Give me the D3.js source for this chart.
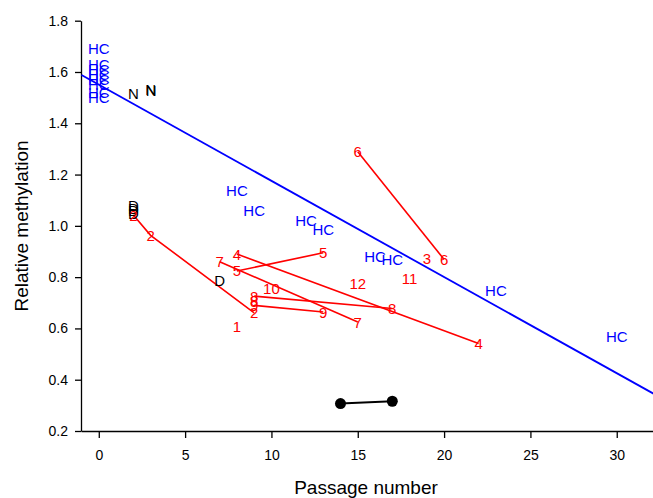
<!DOCTYPE html>
<html>
<head>
    <style>
        body { margin: 0; background: #fff; }
        svg { display: block; font-family: "Liberation Sans", Arial, sans-serif; }
        .axis text { font-size: 14px; fill: #000; }
        .axis path, .axis line { stroke: #000; stroke-width: 1.3px; }
        .lab { font-size: 15px; text-anchor: middle; dominant-baseline: central; }
        .title { font-size: 19px; fill: #000; text-anchor: middle; }
    </style>
    <script src="https://d3js.org/d3.v7.min.js"></script>
</head>
<body>
    <svg width="653" height="498"></svg>
    <script>

        // healthy controls (HC)
        var hcX = [0, 0, 0, 0, 0, 0, 0, 0, 8, 9, 12, 13, 16, 17, 23, 30];
        var hcY = [1.69, 1.63, 1.61, 1.59, 1.57, 1.55, 1.52, 1.50, 1.137, 1.059, 1.02, 0.987, 0.879, 0.869, 0.746, 0.567];

        // N and D samples
        var nX = [2, 3, 3.03];
        var nY = [1.517, 1.533, 1.528];
        var dX = [2, 2, 2, 2, 7];
        var dY = [1.078, 1.068, 1.058, 1.048, 0.788];

        // numbered patients, each point in passage order
        var patLabels = ["1", "2", "3", "4", "5", "6", "7", "8", "8", "9", "10", "11", "12"];
        var patX = [[8], [2, 3, 9], [19], [8, 22], [8, 13], [15, 20],
                    [7, 15], [9, 17], [9], [9, 13], [10], [18], [15]];
        var patY = [[0.606], [1.042, 0.963, 0.661], [0.873], [0.890, 0.541], [0.824, 0.895], [1.289, 0.869],
                    [0.860, 0.625], [0.726, 0.678], [0.708], [0.690, 0.664], [0.756], [0.796], [0.775]];

        // black pair
        var pairX = [14, 17];
        var pairY = [0.307, 0.316];

        // regression line for HC
        var fitIntercept = 1.5505, fitSlope = -0.0375;
        var fitFrom = -1, fitTo = 36;

        var xTicks = [0, 5, 10, 15, 20, 25, 30];
        var yTicks = [0.2, 0.4, 0.6, 0.8, 1.0, 1.2, 1.4, 1.6, 1.8];

        var svg = d3.select("svg");

        var x = d3.scaleLinear().domain([-1.03, 32.1]).range([81, 653]);
        var y = d3.scaleLinear().domain([0.2, 1.8]).range([431, 20.7]);

        svg.append("g")
           .attr("class", "axis")
           .attr("transform", "translate(0," + y(0.2) + ")")
           .call(d3.axisBottom(x).tickValues(xTicks).tickSize(7).tickSizeOuter(0).tickPadding(12));

        svg.append("g")
           .attr("class", "axis")
           .attr("transform", "translate(" + x(-1.03) + ",0)")
           .call(d3.axisLeft(y).tickValues(yTicks).tickFormat(d3.format(".1f")).tickSize(6).tickSizeOuter(0).tickPadding(7));

        svg.selectAll(".axis .domain").attr("stroke-width", 1.5);

        // regression line
        svg.append("line")
           .attr("x1", x(fitFrom)).attr("y1", y(fitIntercept + fitSlope * fitFrom))
           .attr("x2", x(fitTo)).attr("y2", y(fitIntercept + fitSlope * fitTo))
           .attr("stroke", "#0000ff").attr("stroke-width", 1.8);

        // patient lines
        var line = d3.line().x(function(d) { return x(d[0]); }).y(function(d) { return y(d[1]); });
        patX.forEach(function(xs, i) {
            if (xs.length < 2) return;
            svg.append("path")
               .attr("d", line(d3.zip(xs, patY[i])))
               .attr("fill", "none").attr("stroke", "#ff0000").attr("stroke-width", 1.6);
        });

        // HC labels
        svg.selectAll(".hc").data(d3.zip(hcX, hcY)).enter().append("text")
           .attr("class", "lab").attr("fill", "#0000ff")
           .attr("x", function(d) { return x(d[0]); }).attr("y", function(d) { return y(d[1]); })
           .text("HC");

        svg.selectAll(".n").data(d3.zip(nX, nY)).enter().append("text")
           .attr("class", "lab").attr("fill", "#000")
           .attr("x", function(d) { return x(d[0]); }).attr("y", function(d) { return y(d[1]); })
           .text("N");

        svg.selectAll(".d").data(d3.zip(dX, dY)).enter().append("text")
           .attr("class", "lab").attr("fill", "#000")
           .attr("x", function(d) { return x(d[0]); }).attr("y", function(d) { return y(d[1]); })
           .text("D");

        patX.forEach(function(xs, i) {
            xs.forEach(function(v, j) {
                svg.append("text")
                   .attr("class", "lab").attr("fill", "#ff0000")
                   .attr("x", x(v)).attr("y", y(patY[i][j]))
                   .text(patLabels[i]);
            });
        });

        // black pair
        svg.append("path")
           .attr("d", line(d3.zip(pairX, pairY)))
           .attr("stroke", "#000").attr("stroke-width", 2).attr("fill", "none");
        svg.selectAll(".pt").data(d3.zip(pairX, pairY)).enter().append("circle")
           .attr("cx", function(d) { return x(d[0]); }).attr("cy", function(d) { return y(d[1]); })
           .attr("r", 5.5).attr("fill", "#000");

        // titles
        svg.append("text").attr("class", "title")
           .attr("x", 366).attr("y", 494)
           .text("Passage number");

        svg.append("text").attr("class", "title")
           .attr("transform", "translate(27.5,226) rotate(-90)")
           .text("Relative methylation");
    </script>
</body>
</html>
